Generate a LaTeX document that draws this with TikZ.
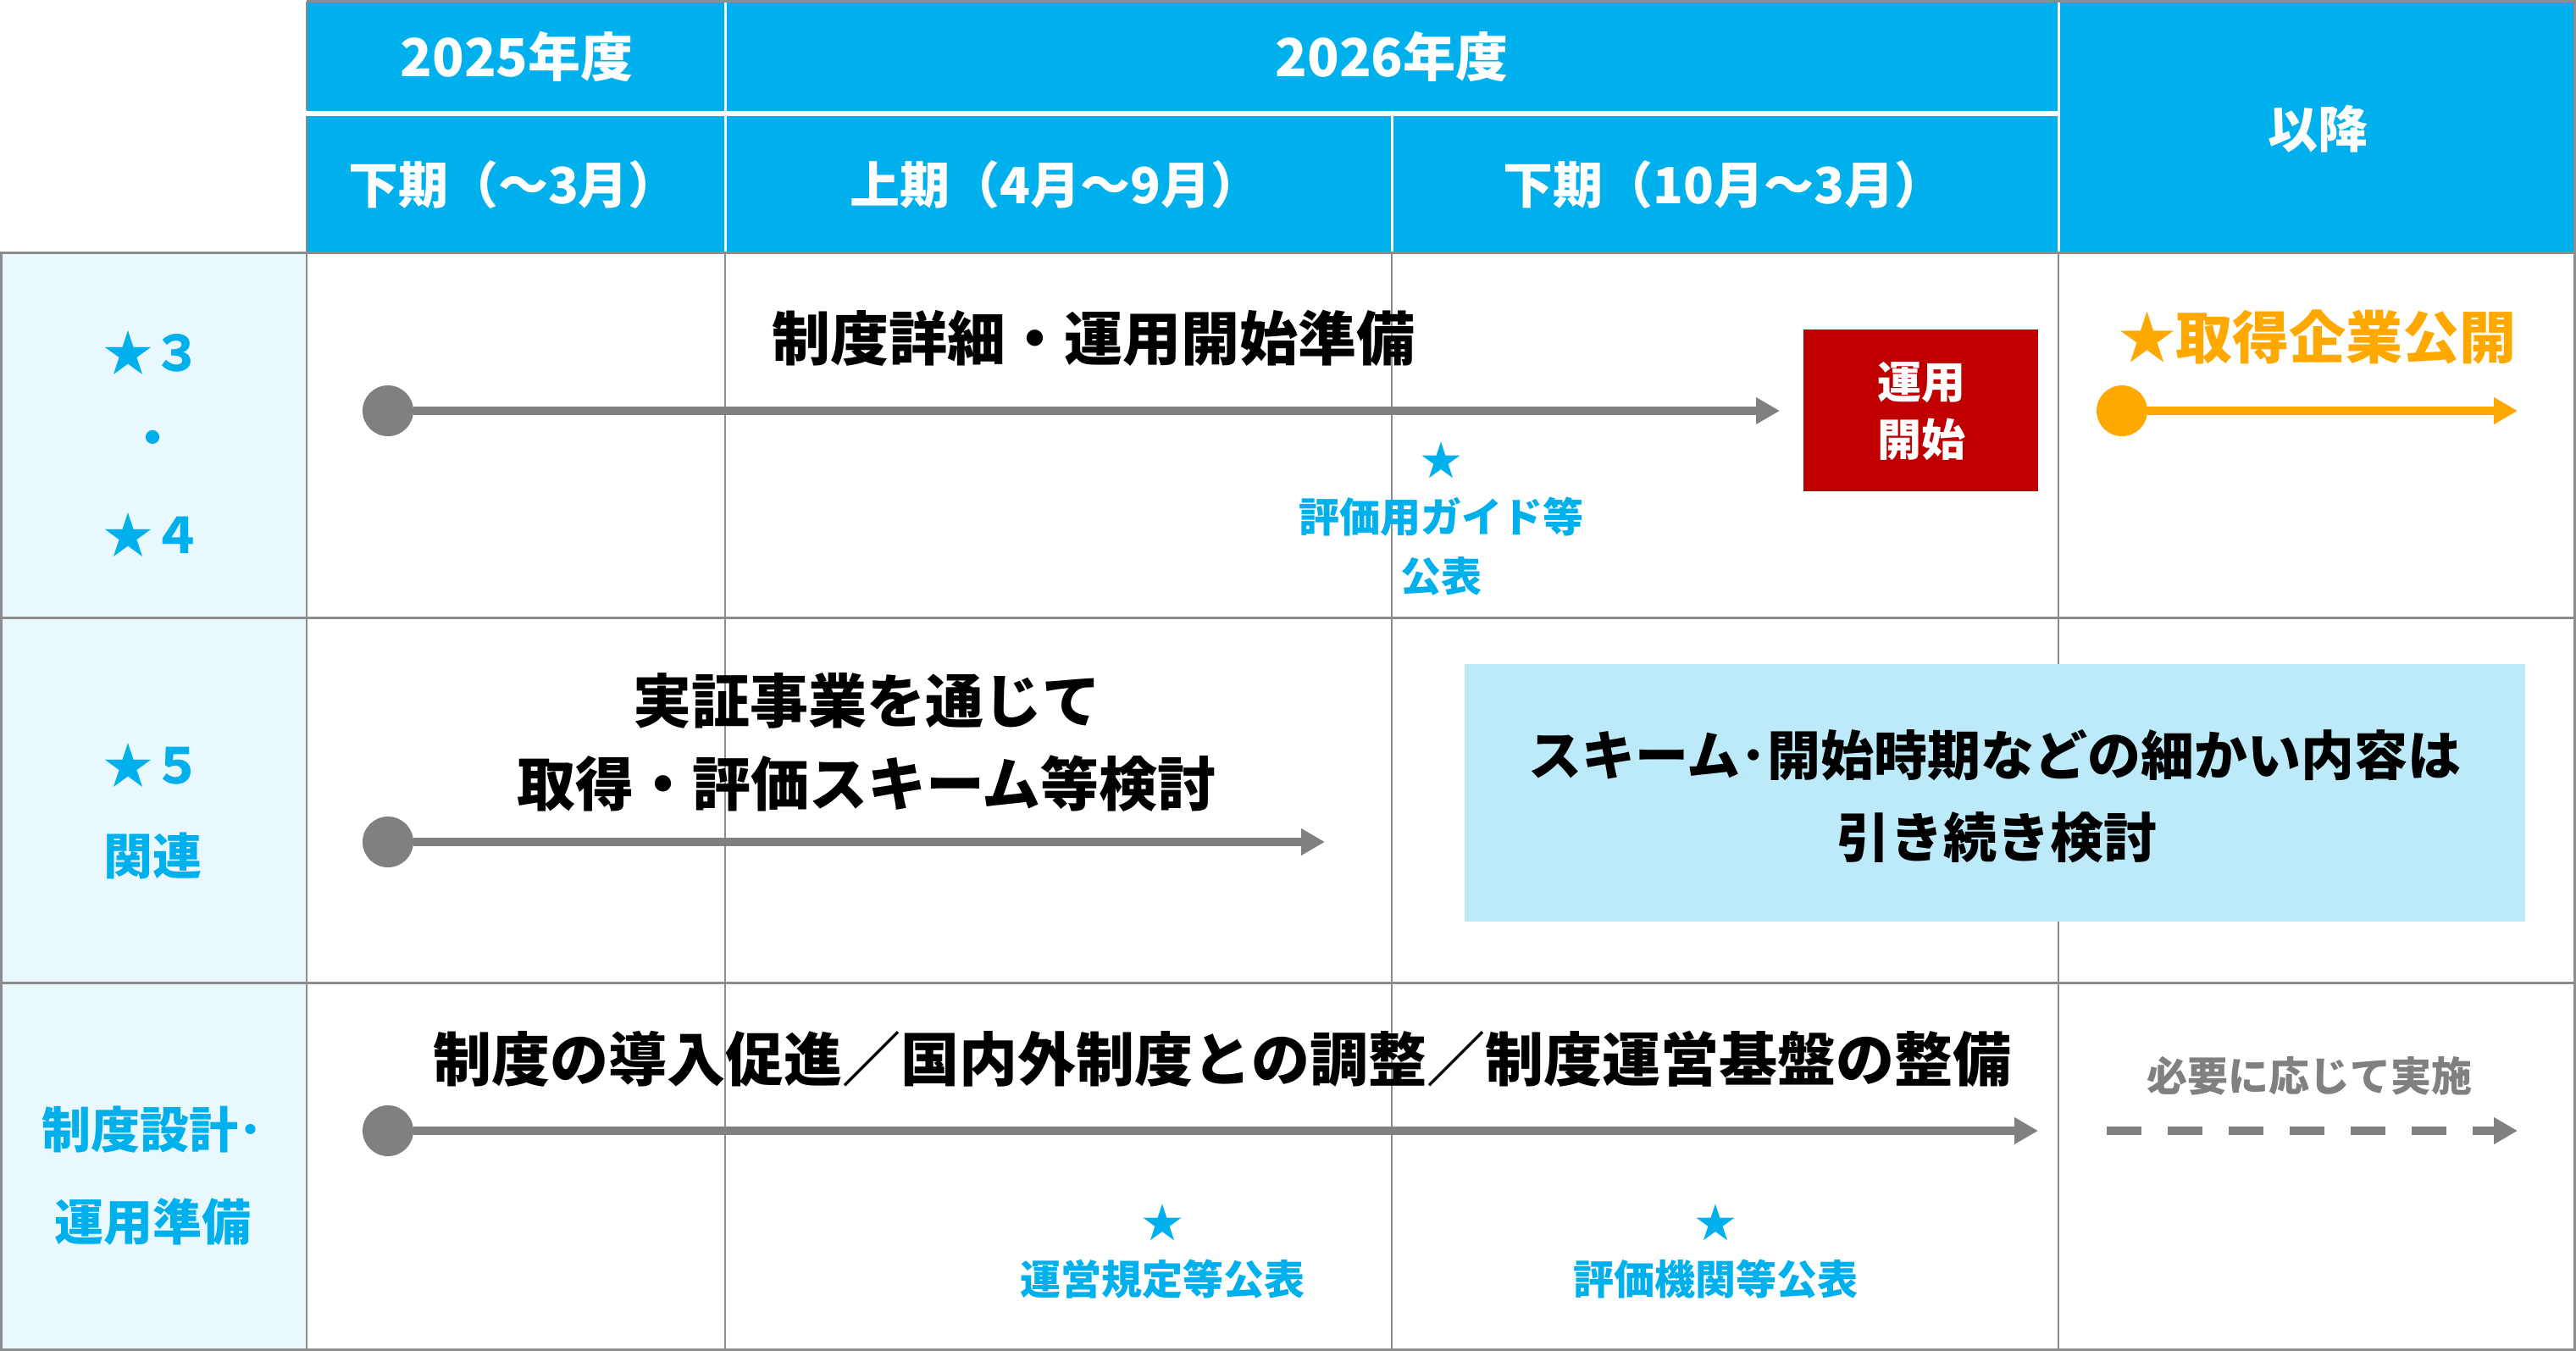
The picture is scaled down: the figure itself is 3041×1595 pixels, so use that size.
\documentclass[tikz,border=0pt]{standalone}
\usepackage{fontspec}
\setmainfont{Noto Sans CJK JP}
\usetikzlibrary{arrows.meta}
\definecolor{hdr}{HTML}{00B0EC}
\definecolor{lcol}{HTML}{E9F8FD}
\definecolor{gridc}{HTML}{8C8C8C}
\definecolor{boxc}{HTML}{BDEAF9}
\definecolor{redc}{HTML}{C00000}
\definecolor{orc}{HTML}{FFA800}
\definecolor{grayc}{HTML}{808080}
\definecolor{bluec}{HTML}{00B0EC}
\begin{document}
\begin{tikzpicture}[x=1pt,y=-1pt,
  txt/.style={inner sep=0pt, font=\bfseries\fontsize{#1}{#1}\selectfont},
  hdrtxt/.style={txt=59, text=white},
  yeartxt/.style={txt=62, text=white},
  ttl/.style={txt=69, text=black},
  sidetxt/.style={txt=58, text=bluec},
  note/.style={txt=48, text=bluec},
  gline/.style={draw=gridc, line width=3pt},
  vline/.style={draw=gridc, line width=2pt},
  wline/.style={draw=white},
  dotnode/.style={circle, fill=#1, minimum size=60pt, inner sep=0pt},
  garrow/.style={draw=#1, line width=10pt, -{Triangle[length=28pt,width=30pt]}},
  redbox/.style={fill=redc, minimum width=277pt, minimum height=191pt, inner sep=0pt},
  bluebox/.style={fill=boxc, minimum width=1252pt, minimum height=304pt, inner sep=0pt}
]
\useasboundingbox (0,0) rectangle (3041,1595);
\fill[white] (0,0) rectangle (3041,1595);
% fills
\fill[lcol] (0,298) rectangle (362,1594);
\fill[hdr] (362,2) rectangle (3040,298);
% header white separators
\draw[wline, line width=6pt] (360,133.5) -- (2430,133.5);
\draw[wline, line width=3pt] (856,2) -- (856,297);
\draw[wline, line width=3pt] (1643,137) -- (1643,297);
\draw[wline, line width=3pt] (2430.5,2) -- (2430.5,297);
% grid
\draw[vline] (362,2) -- (362,130);
\draw[vline] (362,137) -- (362,1594);
\draw[gline] (362,1.5) -- (3041,1.5);
\draw[gline] (0,298) -- (3041,298);
\draw[gline] (0,729.5) -- (3041,729.5);
\draw[gline] (0,1160.5) -- (3041,1160.5);
\draw[gline] (0,1593) -- (3041,1593);
\draw[gline] (1.5,297) -- (1.5,1594);
\draw[gline] (3039.5,0) -- (3039.5,1594);
\draw[vline] (856,298) -- (856,1594);
\draw[vline] (1643,298) -- (1643,1594);
\draw[vline] (2430,298) -- (2430,1594);
% header texts
\node[yeartxt] (h2025) at (610,67) {2025年度};
\node[yeartxt] (h2026) at (1643,67) {2026年度};
\node[hdrtxt] (hlater) at (2736,152) {以降};
\node[hdrtxt] (hs1) at (606,218) {下期（～3月）};
\node[hdrtxt] (hs2) at (1246,218) {上期（4月～9月）};
\node[hdrtxt] (hs3) at (2035,218) {下期（10月～3月）};
% left column
\node[sidetxt] (s3) at (180,417) {★３};
\node[sidetxt] (sdot) at (180,523) {・};
\node[sidetxt] (s4) at (180,632) {★４};
\node[sidetxt] (s5) at (180,904) {★５};
\node[sidetxt] (srel) at (180,1010) {関連};
\node[sidetxt] (sdes) at (180,1334) {制度設計･};
\node[sidetxt] (sprep) at (180,1442) {運用準備};
% row 1
\node[ttl] (t1) at (1291,399) {制度詳細・運用開始準備};
\node[dotnode=grayc] (c1) at (458,485) {};
\coordinate (e1) at (2101,485);
\draw[garrow=grayc] (c1) -- (e1);
\node[redbox] (rb) at (2267.5,484.5) {};
\node[txt=52, text=white] (rb1) at (2268,452) {運用};
\node[txt=52, text=white] (rb2) at (2268,519) {開始};
\node[note] (st1) at (1701,543) {★};
\node[note] (n1a) at (1701,610) {評価用ガイド等};
\node[note] (n1b) at (1701,680) {公表};
\node[txt=67, text=orc] (ot) at (2736,398) {★取得企業公開};
\node[dotnode=orc] (c2) at (2505,485) {};
\coordinate (e2) at (2972,485);
\draw[garrow=orc] (c2) -- (e2);
% row 2
\node[ttl] (t2a) at (1023,827) {実証事業を通じて};
\node[ttl] (t2b) at (1023,925) {取得・評価スキーム等検討};
\node[dotnode=grayc] (c3) at (458,994) {};
\coordinate (e3) at (1564,994);
\draw[garrow=grayc] (c3) -- (e3);
\node[bluebox] (bb) at (2355,936) {};
\node[txt=63, text=black] (bb1) at (2355,892) {スキーム･開始時期などの細かい内容は};
\node[txt=63, text=black] (bb2) at (2357,989) {引き続き検討};
% row 3
\node[ttl] (t3) at (1443,1250) {制度の導入促進／国内外制度との調整／制度運営基盤の整備};
\node[dotnode=grayc] (c4) at (458,1335) {};
\coordinate (e4) at (2406,1335);
\draw[garrow=grayc] (c4) -- (e4);
\node[txt=48, text=grayc] (nec) at (2726,1270) {必要に応じて実施};
\coordinate (d0) at (2487,1335);
\coordinate (d1) at (2972,1335);
\draw[garrow=grayc, dash pattern=on 41pt off 31pt] (d0) -- (d1);
\node[note] (st2) at (1372,1443) {★};
\node[note] (n2) at (1372,1510) {運営規定等公表};
\node[note] (st3) at (2025,1443) {★};
\node[note] (n3) at (2025,1510) {評価機関等公表};
\end{tikzpicture}
\end{document}
